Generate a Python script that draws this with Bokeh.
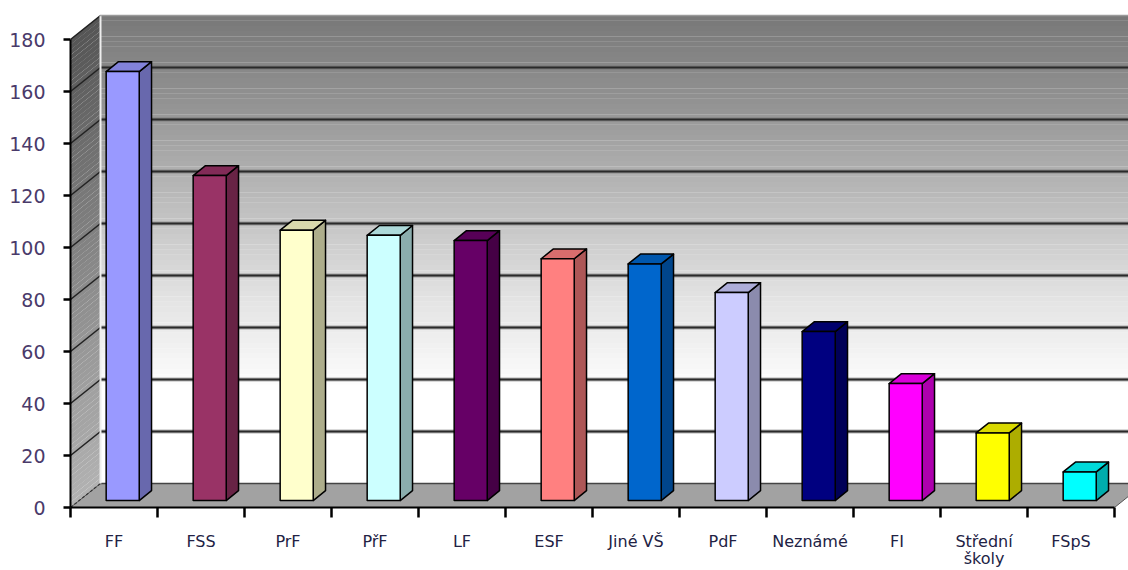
from bokeh.plotting import figure
from bokeh.models import FixedTicker, Range1d
from bokeh.embed import file_html
from bokeh.resources import INLINE

# ---------------- data ----------------
categories = ["FF", "FSS", "PrF", "PřF", "LF", "ESF", "Jiné VŠ", "PdF",
              "Neznámé", "FI", "Střední\nškoly", "FSpS"]
values = [165, 125, 104, 102, 100, 93, 91, 80, 65, 45, 26, 11]
y_ticks = [0, 20, 40, 60, 80, 100, 120, 140, 160, 180]

# ---------------- style ----------------
bar_colors = ["#9999FF", "#993366", "#FFFFCC", "#CCFFFF", "#660066", "#FF8080",
              "#0066CC", "#CCCCFF", "#000080", "#FF00FF", "#FFFF00", "#00FFFF"]

W, H = 1128, 570
BORDER_L, BORDER_T, BORDER_B = 70, 10, 63
FRAME_W = W - BORDER_L
FRAME_H = H - BORDER_T - BORDER_B
CAT_PX = 87.0                      # pixels per category
UNIT_PX = 2.6                      # pixels per value unit
X_END = FRAME_W / CAT_PX
Y_END = FRAME_H / UNIT_PX
DX = 30 / CAT_PX                   # depth offset of the walls (x units)
DY = 24 / UNIT_PX                  # depth offset of the walls (y units)
F1, F2 = 0.29, 0.70                # bar front / back depth fractions
HW = 0.19                          # bar half width (category units)
YMAX = y_ticks[-1]


def hexrgb(c):
    c = c.lstrip("#")
    return tuple(int(c[i:i + 2], 16) for i in (0, 2, 4))


def rgbhex(r, g, b):
    return "#%02x%02x%02x" % (int(round(r)), int(round(g)), int(round(b)))


def shade(c, k):
    r, g, b = hexrgb(c)
    return rgbhex(r * k, g * k, b * k)


def interp(stops, v):
    for (a, ca), (b, cb) in zip(stops, stops[1:]):
        if a <= v <= b:
            t = (v - a) / (b - a) if b > a else 0
            g = ca + (cb - ca) * t
            return rgbhex(g, g, g)
    g = stops[-1][1]
    return rgbhex(g, g, g)


p = figure(width=W, height=H, x_range=Range1d(0, X_END), y_range=Range1d(0, Y_END),
           output_backend="svg", toolbar_location=None,
           min_border_left=BORDER_L, min_border_right=0,
           min_border_top=BORDER_T, min_border_bottom=BORDER_B)
p.grid.visible = False
p.outline_line_color = None
p.background_fill_color = "white"
p.border_fill_color = "white"

# back wall gradient
back_stops = [(0, 255), (36, 255), (50, 243), (70, 228), (90, 208),
              (116, 180), (147, 146), (180, 120)]
N = 90
step = YMAX / N
for i in range(N):
    a = i * step
    p.quad(left=DX, right=X_END, bottom=a + DY, top=a + step + DY + 0.05,
           fill_color=interp(back_stops, a + step / 2), line_color=None)

# left wall gradient
left_stops = [(0, 178), (60, 150), (120, 118), (180, 84)]
xs_l, ys_l, cs_l = [], [], []
for i in range(N):
    a = i * step
    b = a + step + 0.05
    xs_l.append([0, 0, DX, DX])
    ys_l.append([a, b, b + DY, a + DY])
    cs_l.append(interp(left_stops, a + step / 2))
p.patches(xs_l, ys_l, fill_color=cs_l, line_color=None)

# floor
p.patch([0, 12, 12 + DX, X_END + 1, X_END + 1, DX], [0, 0, DY, DY, DY, DY],
        fill_color="#a2a2a2", line_color="#555555", line_width=1)

# gridlines on walls
for v in y_ticks:
    if v == 0:
        p.line([DX, X_END], [DY, DY], line_color="#444444", line_width=1.5)
        p.line([0, DX], [0, DY], line_color="#333333", line_width=1.2, line_dash="3 2")
        continue
    if v < YMAX:
        p.line([DX, X_END], [v + DY, v + DY], line_color="#6a6a6a", line_width=4, alpha=0.5)
        p.line([DX, X_END], [v + DY, v + DY], line_color="#2a2a2a", line_width=2.2)
    p.line([0, DX], [v, v + DY], line_color="#222222", line_width=1.6)

# back wall left edge (light) and top edge
p.line([DX, DX], [DY, YMAX + DY], line_color="#eeeeee", line_width=2)
p.line([DX, X_END], [YMAX + DY, YMAX + DY], line_color="#9a9a9a", line_width=2, line_dash="1 1")

# bars (3D)
sx, sy, sc, tx, ty, tc, fx, fy, fc = [], [], [], [], [], [], [], [], []
d_x = (F2 - F1) * DX
d_y = (F2 - F1) * DY
for i, (v, c) in enumerate(zip(values, bar_colors)):
    cx = i + 0.5
    x0 = cx - HW + F1 * DX
    x1 = cx + HW + F1 * DX
    b = F1 * DY
    t = v + b
    fx.append([x0, x1, x1, x0]); fy.append([b, b, t, t]); fc.append(c)
    sx.append([x1, x1 + d_x, x1 + d_x, x1]); sy.append([b, b + d_y, t + d_y, t])
    sc.append(shade(c, 0.68))
    tx.append([x0, x1, x1 + d_x, x0 + d_x]); ty.append([t, t, t + d_y, t + d_y])
    tc.append(shade(c, 0.85))

p.patches(sx, sy, fill_color=sc, line_color="black", line_width=1.5, line_join="round")
p.patches(tx, ty, fill_color=tc, line_color="black", line_width=1.5, line_join="round")
p.patches(fx, fy, fill_color=fc, line_color="black", line_width=1.5, line_join="round")

# axes
centers = [i + 0.5 for i in range(len(categories))]
edges = [float(i) for i in range(len(categories) + 1)]
xa = p.xaxis[0]
xa.ticker = FixedTicker(ticks=centers, minor_ticks=edges)
xa.major_label_overrides = {c: lab for c, lab in zip(centers, categories)}
xa.bounds = (0, len(categories))
xa.axis_line_color = "black"
xa.axis_line_width = 2
xa.major_tick_out = 0
xa.major_tick_in = 0
xa.minor_tick_out = 10
xa.minor_tick_in = 0
xa.minor_tick_line_color = "black"
xa.minor_tick_line_width = 2.5
xa.major_label_standoff = 14
xa.major_label_text_font = "DejaVu Sans"
xa.major_label_text_font_size = "16px"
xa.major_label_text_line_height = 0.9
xa.major_label_text_color = "#222244"

ya = p.yaxis[0]
ya.ticker = FixedTicker(ticks=y_ticks, minor_ticks=[])
ya.bounds = (0, YMAX)
ya.axis_line_color = "black"
ya.axis_line_width = 2
ya.major_tick_out = 7
ya.major_tick_in = 0
ya.major_tick_line_width = 2.5
ya.minor_tick_out = 0
ya.minor_tick_in = 0
ya.major_label_standoff = 18
ya.major_label_text_font = "DejaVu Sans"
ya.major_label_text_font_size = "19px"
ya.major_label_text_color = "#4a3a6a"

open("out.html", "w").write(file_html(p, INLINE))
